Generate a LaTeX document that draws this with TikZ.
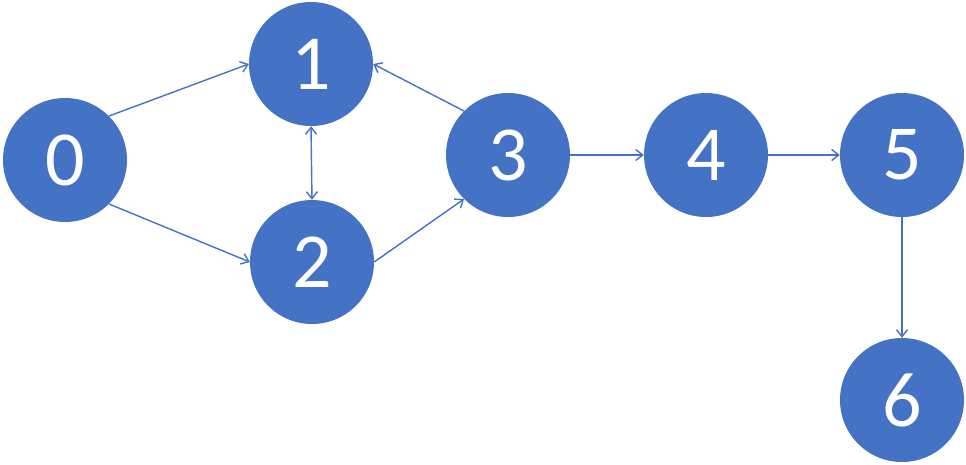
\documentclass[tikz,border=0pt]{standalone}
\usepackage{fontspec}
\setmainfont{Carlito}
\usetikzlibrary{arrows.meta}
\definecolor{nodeblue}{HTML}{4472C4}
\begin{document}
\begin{tikzpicture}[x=1pt,y=-1pt,
  vert/.style={circle,fill=nodeblue,draw=none,minimum size=124pt,inner sep=0pt,text=white,font=\fontsize{78}{78}\selectfont},
  conn/.style={draw=nodeblue,line width=1.4pt,-{Straight Barb[length=7pt,width=11pt,line width=1.4pt]}},
  biconn/.style={draw=nodeblue,line width=1.4pt,{Straight Barb[length=7pt,width=11pt,line width=1.4pt]}-{Straight Barb[length=7pt,width=11pt,line width=1.4pt]}}]
\useasboundingbox (0,0) rectangle (966,464);
\node[vert] (n0) at (65,160) {0};
\node[vert] (n1) at (311,64) {1};
\node[vert] (n2) at (312,262) {2};
\node[vert] (n3) at (508,155) {3};
\node[vert] (n4) at (706,155) {4};
\node[vert] (n5) at (902,155) {5};
\node[vert] (n6) at (902,400) {6};
\draw[conn] (n0.north east) -- (n1.west);
\draw[conn] (n0.south east) -- (n2.west);
\draw[biconn] (n1.south) -- (n2.north);
\draw[conn] (n3.north west) -- (n1.east);
\draw[conn] (n2.east) -- (n3.south west);
\draw[conn] (n3.east) -- (n4.west);
\draw[conn] (n4.east) -- (n5.west);
\draw[conn] (n5.south) -- (n6.north);
\end{tikzpicture}
\end{document}
